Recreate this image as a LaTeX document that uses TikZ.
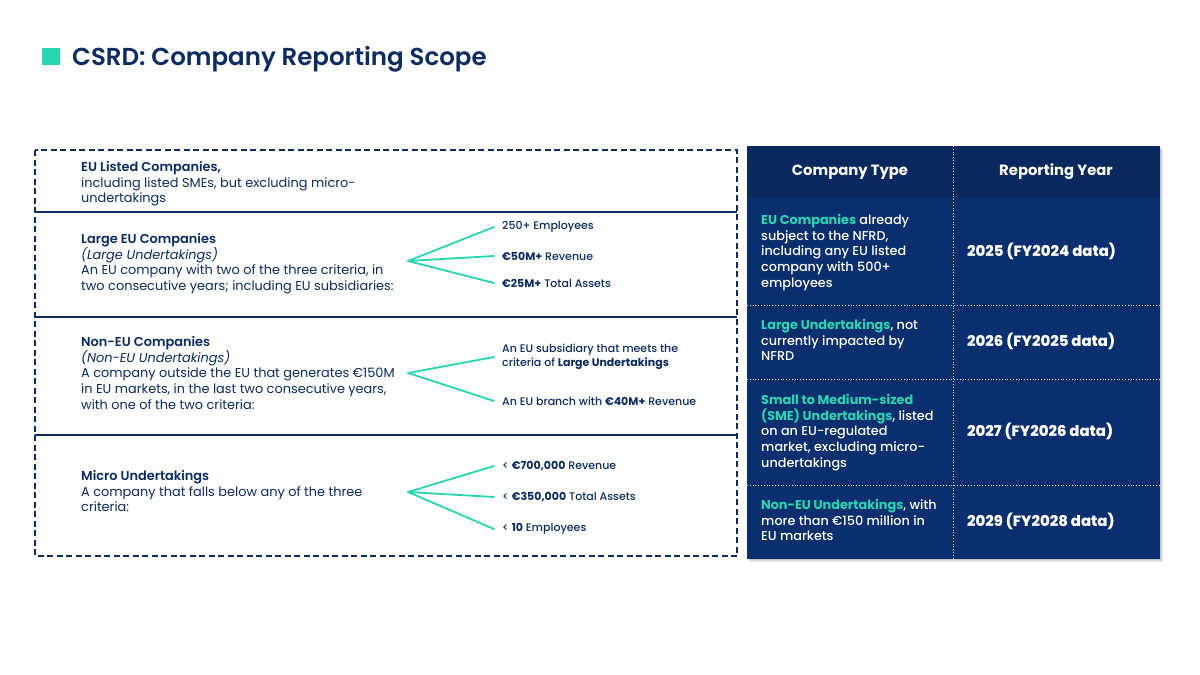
\documentclass[tikz,border=0pt]{standalone}
\usepackage{fontspec}
\setmainfont{Poppins}
\IfFontExistsTF{Poppins Medium}{\newfontfamily\pmed{Poppins Medium}[BoldFont=Poppins Bold]}{\newfontfamily\pmed{Poppins}}
\IfFontExistsTF{Poppins SemiBold}{\newfontfamily\psemi{Poppins SemiBold}}{\newfontfamily\psemi{Poppins}[FakeBold=1]}
\IfFontExistsTF{Poppins ExtraBold}{\newfontfamily\pxb{Poppins ExtraBold}}{\newfontfamily\pxb{Poppins Bold}}
\definecolor{navy}{HTML}{0B2B63}
\definecolor{teal}{HTML}{26D6B2}
\definecolor{tbody}{HTML}{0A2F6E}
\definecolor{thead}{HTML}{08285E}
\tikzset{
  body/.style={anchor=north west, inner sep=0pt, align=left, text=navy, font=\fontsize{12.9}{15.8}\selectfont},
  crit/.style={anchor=west, inner sep=0pt, align=left, text=navy, font=\pmed\fontsize{11}{14.2}\selectfont},
  branch/.style={draw=teal, line width=1.8pt, line cap=round},
  sep/.style={draw=navy, line width=1.1pt},
  cell/.style={anchor=north west, inner sep=0pt, align=left, text=white, font=\pmed\fontsize{12.8}{15.7}\selectfont},
  year/.style={anchor=west, inner sep=0pt, text=white, font=\pxb\fontsize{14.9}{16}\selectfont},
  head/.style={inner sep=0pt, text=white, font=\bfseries\fontsize{14.8}{16}\selectfont},
  tdot/.style={draw=white!85!tbody, line width=0.8pt, dotted}
}
\newcommand{\hl}[1]{\textcolor{teal}{\textbf{#1}}}
\newcommand{\hd}[1]{{\psemi #1}}
\begin{document}
\begin{tikzpicture}[x=1pt,y=-1pt]
\useasboundingbox (0,0) rectangle (1200,675);
\fill[white] (0,0) rectangle (1200,675);
% title
\fill[teal] (42,48) rectangle (60,65);
\node[anchor=west, inner sep=0pt, text=navy, font=\psemi\fontsize{24.5}{28}\selectfont] (title) at (72,59) {CSRD: Company Reporting Scope};
% left box
\draw[sep] (35,212) -- (737,212);
\draw[sep] (35,317) -- (737,317);
\draw[sep] (35,435) -- (737,435);
\draw[navy, line width=1.5pt, dash pattern=on 6pt off 3.5pt] (35,150) rectangle (737,556);
% row 1
\node[body] (r1) at (81,161) {\hd{EU Listed Companies,}\\including listed SMEs, but excluding micro-\\undertakings};
% row 2
\node[body] (r2) at (81,233) {\hd{Large EU Companies}\\\textit{(Large Undertakings)}\\An EU company with two of the three criteria, in\\two consecutive years; including EU subsidiaries:};
\coordinate (o2) at (408,261);
\node[crit] (c21) at (502,227) {250+ Employees};
\node[crit] (c22) at (502,256) {\textbf{€50M+} Revenue};
\node[crit] (c23) at (502,283) {\textbf{€25M+} Total Assets};
\foreach \c in {c21,c22,c23} \draw[branch] (o2) -- ([xshift=-8pt]\c.west);
% row 3
\node[body] (r3) at (81,336) {\hd{Non-EU Companies}\\\textit{(Non-EU Undertakings)}\\A company outside the EU that generates €150M\\in EU markets, in the last two consecutive years,\\with one of the two criteria:};
\coordinate (o3) at (408,373);
\node[crit] (c31) at (502,357) {An EU subsidiary that meets the\\criteria of \textbf{Large Undertakings}};
\node[crit] (c32) at (502,401) {An EU branch with \textbf{€40M+} Revenue};
\foreach \c in {c31,c32} \draw[branch] (o3) -- ([xshift=-8pt]\c.west);
% row 4
\node[body] (r4) at (81,470) {\hd{Micro Undertakings}\\A company that falls below any of the three\\criteria:};
\coordinate (o4) at (408,492);
\node[crit] (c41) at (502,466) {< \textbf{€700,000} Revenue};
\node[crit] (c42) at (502,497) {< \textbf{€350,000} Total Assets};
\node[crit] (c43) at (502,529) {< \textbf{10} Employees};
\foreach \c in {c41,c42,c43} \draw[branch] (o4) -- ([xshift=-8pt]\c.west);
% table shadow
\foreach \i/\o in {1/0.10,2/0.07,3/0.05,4/0.03} \fill[black, opacity=\o] (747+\i,146+\i) rectangle (1160+\i,559+\i);
\fill[tbody] (747,146) rectangle (1160,559);
\fill[thead] (747,146) rectangle (1160,198);
\draw[tdot] (953,146) -- (953,559);
\draw[tdot] (747,305) -- (1160,305);
\draw[tdot] (747,379) -- (1160,379);
\draw[tdot] (747,485) -- (1160,485);
\node[head] (h1) at (850,172) {Company Type};
\node[head] (h2) at (1056,172) {Reporting Year};
\node[cell] (t1) at (761,214) {\hl{EU Companies} already\\subject to the NFRD,\\including any EU listed\\company with 500+\\employees};
\node[year] (y1) at (967,251) {2025 (FY2024 data)};
\node[cell] (t2) at (761,319) {\hl{Large Undertakings}, not\\currently impacted by\\NFRD};
\node[year] (y2) at (967,341) {2026 (FY2025 data)};
\node[cell] (t3) at (761,394) {\hl{Small to Medium-sized}\\\hl{(SME) Undertakings}, listed\\on an EU-regulated\\market, excluding micro-\\undertakings};
\node[year] (y3) at (967,431) {2027 (FY2026 data)};
\node[cell] (t4) at (761,499) {\hl{Non-EU Undertakings}, with\\more than €150 million in\\EU markets};
\node[year] (y4) at (967,521) {2029 (FY2028 data)};
\end{tikzpicture}
\end{document}
